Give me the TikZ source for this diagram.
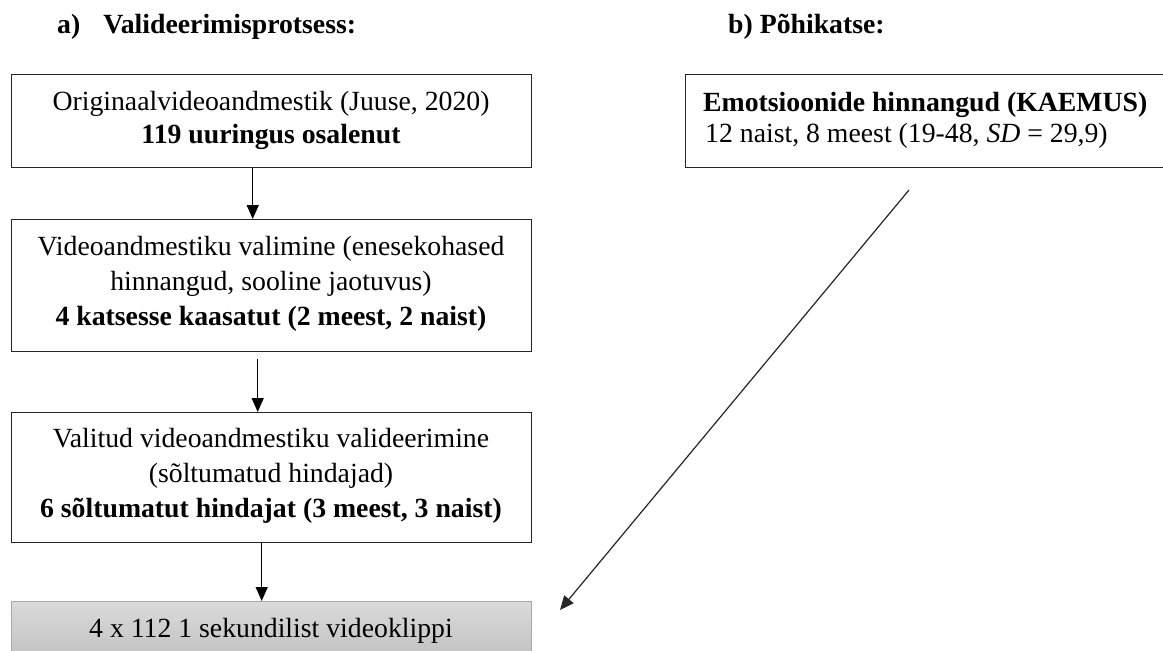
\documentclass[tikz,border=0pt]{standalone}
\usepackage{fontspec}
\setmainfont{Liberation Serif}
\usetikzlibrary{arrows.meta}
\definecolor{boxline}{HTML}{262626}
\definecolor{grayline}{HTML}{A8A8A8}
\definecolor{graytop}{HTML}{DADADA}
\definecolor{graybot}{HTML}{BDBDBD}
\tikzset{
  flowbox/.style={draw=boxline, line width=1.4pt, fill=white, rectangle, inner sep=0pt, anchor=north west},
  greybox/.style={draw=grayline, line width=1.2pt, rectangle, inner sep=0pt, anchor=north west, top color=graytop, bottom color=graybot},
  txt/.style={font=\fontsize{27.75}{33}\selectfont, inner sep=0pt, anchor=base},
  txtl/.style={txt, anchor=base west},
  arr/.style={-{Triangle[length=14pt,width=12pt]}, line width=1.4pt, draw=black},
}
\begin{document}
\begin{tikzpicture}[x=1pt,y=-1pt]
\path[use as bounding box, clip] (0,0) rectangle (1163,651);
\fill[white] (0,0) rectangle (1163,651);
% titles
\node[txtl] (ta) at (57,33) {\bfseries a)\hspace{23pt}Valideerimisprotsess:};
\node[txtl] (tb) at (728,33) {\bfseries b) Põhikatse:};
% boxes
\node[flowbox, minimum width=520pt, minimum height=93pt] (box1) at (11,74) {};
\node[flowbox, minimum width=520pt, minimum height=132pt] (box2) at (11,219) {};
\node[flowbox, minimum width=520pt, minimum height=130pt] (box3) at (11,412) {};
\node[greybox, minimum width=520pt, minimum height=68pt] (box4) at (11,601) {};
\node[flowbox, minimum width=500pt, minimum height=93pt] (boxr) at (685,74) {};
% box texts
\node[txt] (b1a) at (271,110) {Originaalvideoandmestik (Juuse, 2020)};
\node[txt] (b1b) at (271,143) {\bfseries 119 uuringus osalenut};
\node[txt] (b2a) at (271,255) {Videoandmestiku valimine (enesekohased};
\node[txt] (b2b) at (271,290) {hinnangud, sooline jaotuvus)};
\node[txt] (b2c) at (271,325) {\bfseries 4 katsesse kaasatut (2 meest, 2 naist)};
\node[txt] (b3a) at (271,447) {Valitud videoandmestiku valideerimine};
\node[txt] (b3b) at (271,482) {(sõltumatud hindajad)};
\node[txt] (b3c) at (271,517) {\bfseries 6 sõltumatut hindajat (3 meest, 3 naist)};
\node[txt] (b4a) at (271,637) {4 x 112 1 sekundilist videoklippi};
\node[txtl] (bra) at (703,111) {\bfseries Emotsioonide hinnangud (KAEMUS)};
\node[txtl] (brb) at (705,142) {12 naist, 8 meest (19-48, \textit{SD} = 29,9)};
% connectors
\draw[arr] ([xshift=-19pt]box1.south) -- ([xshift=-19pt]box1.south |- box2.north);
\draw[arr] ([xshift=-14pt,yshift=-7pt]box2.south) -- ([xshift=-14pt]box2.south |- box3.north);
\draw[arr] ([xshift=-10pt]box3.south) -- ([xshift=-10pt]box3.south |- box4.north);
\coordinate (dstart) at (909,190);
\coordinate (dend) at (560,610);
\draw[arr, line width=1.2pt, draw=black!85] (dstart) -- (dend);
\end{tikzpicture}
\end{document}
